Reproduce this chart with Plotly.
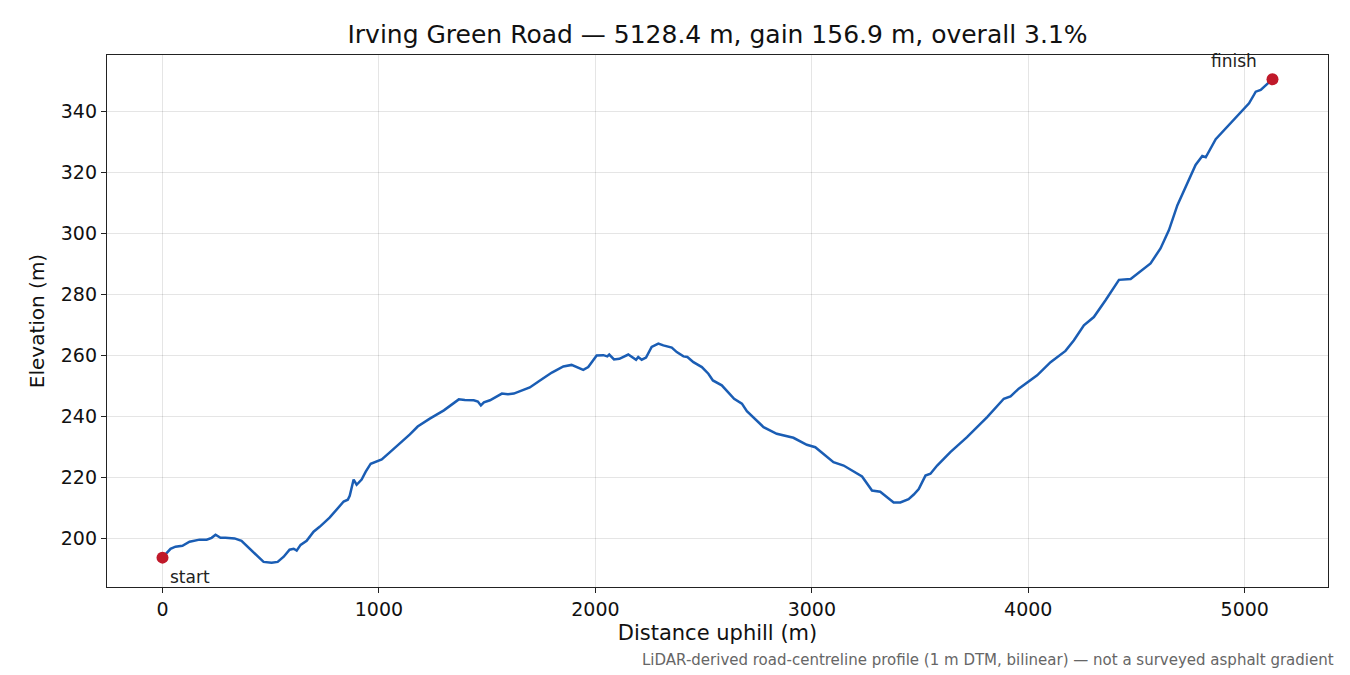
import plotly.graph_objects as go

distance_m = [0, 37, 60, 92, 125, 171, 204, 227, 245, 268, 291, 333, 365, 402, 439, 467, 504, 532, 560, 587,
              606, 620, 638, 666, 698, 726, 772, 805, 837, 856, 865, 883, 897, 920, 939, 962, 985, 1013, 1050,
              1096, 1143, 1179, 1235, 1300, 1337, 1369, 1397, 1438, 1457, 1471, 1485, 1513, 1568, 1596, 1623,
              1697, 1744, 1799, 1852, 1890, 1944, 1967, 2006, 2037, 2055, 2064, 2086, 2111, 2152, 2175, 2188,
              2198, 2214, 2234, 2260, 2291, 2314, 2353, 2376, 2407, 2425, 2453, 2492, 2522, 2543, 2584, 2623,
              2641, 2677, 2700, 2777, 2838, 2915, 2977, 3016, 3100, 3147, 3232, 3278, 3316, 3378, 3409, 3447,
              3471, 3494, 3525, 3548, 3579, 3640, 3717, 3810, 3887, 3918, 3956, 4041, 4103, 4172, 4211, 4257,
              4303, 4357, 4419, 4473, 4527, 4565, 4611, 4650, 4689, 4727, 4773, 4804, 4820, 4866, 4912, 4958,
              4997, 5020, 5051, 5074, 5128.4]
elevation_m = [193.8, 196.7, 197.4, 197.7, 199.0, 199.7, 199.7, 200.3, 201.3, 200.3, 200.3, 200.1, 199.3, 196.7,
               194.1, 192.4, 192.1, 192.4, 194.1, 196.4, 196.7, 196.1, 198.0, 199.3, 202.3, 203.9, 206.9, 209.5,
               212.2, 212.8, 214.1, 219.4, 217.7, 219.4, 222.0, 224.6, 225.3, 226.0, 228.3, 231.2, 234.2, 236.8,
               239.4, 242.1, 244.0, 245.7, 245.5, 245.4, 245.0, 243.7, 244.7, 245.4, 247.6, 247.4, 247.6, 249.6,
               251.9, 254.5, 256.5, 257.0, 255.4, 256.3, 260.1, 260.2, 259.8, 260.4, 258.8, 259.0, 260.4, 259.4,
               258.7, 259.6, 258.7, 259.4, 262.9, 264.0, 263.4, 262.7, 261.2, 259.8, 259.6, 257.9, 256.3, 254.1,
               251.9, 250.3, 247.3, 245.9, 244.3, 241.8, 236.6, 234.4, 233.1, 230.8, 230.0, 225.1, 224.0, 220.4,
               215.8, 215.4, 211.9, 211.9, 213.0, 214.5, 216.3, 220.7, 221.3, 224.0, 228.4, 233.3, 239.9, 245.9,
               246.7, 249.2, 253.6, 257.9, 261.6, 265.1, 270.0, 272.7, 278.2, 284.9, 285.2, 288.1, 290.3, 295.2,
               301.2, 309.4, 315.4, 322.6, 325.5, 325.1, 331.0, 334.6, 337.9, 341.2, 342.8, 346.6, 347.2, 350.7]

endpoint_labels = ["start", "finish"]
x_ticks = [0, 1000, 2000, 3000, 4000, 5000]
y_ticks = [200, 220, 240, 260, 280, 300, 320, 340]

title_text = "Irving Green Road — 5128.4 m, gain 156.9 m, overall 3.1%"
footer_text = "LiDAR-derived road-centreline profile (1 m DTM, bilinear) — not a surveyed asphalt gradient"

FONT = "DejaVu Sans, Liberation Sans, sans-serif"
LINE = "#1a5db4"
RED = "#c0192a"

xmin, xmax = min(distance_m), max(distance_m)
ymin, ymax = min(elevation_m), max(elevation_m)
xpad = (xmax - xmin) * 0.05
ypad = (ymax - ymin) * 0.05

fig = go.Figure()
fig.add_trace(go.Scatter(x=distance_m, y=elevation_m, mode="lines",
                         line=dict(color=LINE, width=2.5), hoverinfo="skip", showlegend=False))
fig.add_trace(go.Scatter(x=[distance_m[0], distance_m[-1]], y=[elevation_m[0], elevation_m[-1]],
                         mode="markers", marker=dict(color=RED, size=12), showlegend=False))

fig.add_annotation(x=distance_m[0], y=elevation_m[0], text=endpoint_labels[0], showarrow=True,
                   arrowcolor="rgba(0,0,0,0)", ax=5, ay=19, xanchor="left", yanchor="middle",
                   font=dict(family=FONT, size=17, color="#222"))
fig.add_annotation(x=distance_m[-1], y=elevation_m[-1], text=endpoint_labels[1], showarrow=True,
                   arrowcolor="rgba(0,0,0,0)", ax=-39, ay=-18, xanchor="center", yanchor="middle",
                   font=dict(family=FONT, size=17, color="#222"))
fig.add_annotation(xref="paper", yref="paper", x=1.0066, y=-0.137, text=footer_text, showarrow=False,
                   xanchor="right", yanchor="middle", font=dict(family=FONT, size=15, color="#666"))

axis_common = dict(showline=True, linecolor="#222", linewidth=1.3, mirror=True,
                   ticks="outside", ticklen=5, tickwidth=1.3, tickcolor="#222",
                   showgrid=True, gridcolor="rgba(0,0,0,0.1)", gridwidth=1, zeroline=False,
                   tickfont=dict(family=FONT, size=19, color="#111"))

fig.update_layout(
    width=1350, height=675,
    margin=dict(l=99, r=30, t=47, b=96),
    paper_bgcolor="white", plot_bgcolor="white",
    font=dict(family=FONT, color="#111"),
    title=dict(text=title_text, xref="paper", x=0.5, xanchor="center", y=0.9615, yanchor="middle",
               font=dict(family=FONT, size=25, color="#111")),
    xaxis=dict(range=[xmin - xpad, xmax + xpad], tickvals=x_ticks,
               title=dict(text="Distance uphill (m)", font=dict(family=FONT, size=21), standoff=6),
               **axis_common),
    yaxis=dict(range=[ymin - ypad, ymax + ypad], tickvals=y_ticks,
               title=dict(text="Elevation (m)", font=dict(family=FONT, size=20), standoff=10),
               **axis_common),
)

fig.write_html("out.html")
